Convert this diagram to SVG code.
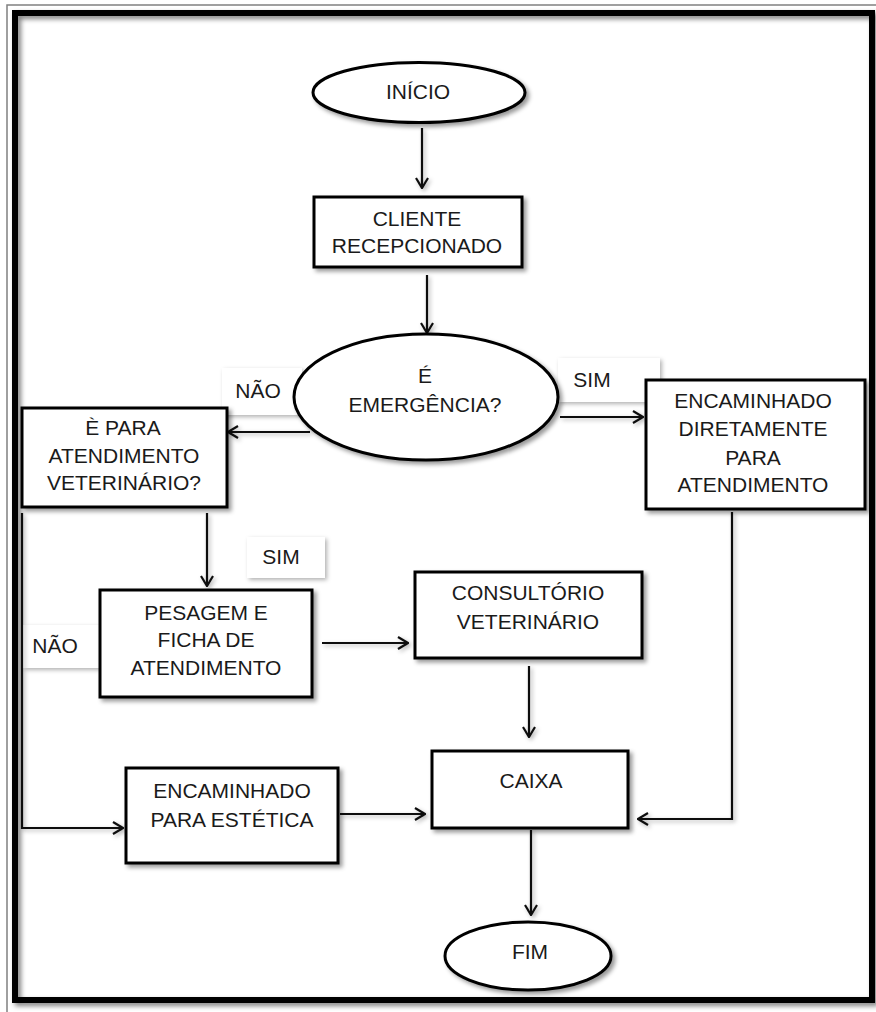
<svg xmlns="http://www.w3.org/2000/svg" width="876" height="1012" viewBox="0 0 876 1012">
<defs>
<style>
.t{font-family:"Liberation Sans",Arial,sans-serif;font-size:21px;fill:#1a1a1a;text-anchor:middle}
.n{fill:#fff;stroke:#000;stroke-width:3}
.c{fill:none;stroke:#111;stroke-width:2.2}
.lb{fill:#fff;stroke:none}
</style>
<filter id="sh" x="-20%" y="-20%" width="140%" height="140%">
<feDropShadow dx="3" dy="3" stdDeviation="2" flood-color="#000" flood-opacity="0.4"/>
</filter>
<filter id="shl" x="-20%" y="-20%" width="140%" height="140%">
<feDropShadow dx="2" dy="2" stdDeviation="2" flood-color="#000" flood-opacity="0.3"/>
</filter>
<filter id="fsh" x="-5%" y="-5%" width="110%" height="110%">
<feDropShadow dx="3" dy="3" stdDeviation="2.5" flood-color="#000" flood-opacity="0.5"/>
</filter>
<marker id="ar" viewBox="0 0 12 14" refX="11" refY="7" markerWidth="12" markerHeight="14" markerUnits="userSpaceOnUse" orient="auto">
<path d="M1,1 L11,7 L1,13" fill="none" stroke="#111" stroke-width="2.2"/>
</marker>
</defs>
<rect width="876" height="1012" fill="#fff"/>
<rect x="7" y="5" width="880" height="1020" fill="none" stroke="#808080" stroke-width="1.5"/>
<rect x="15" y="13" width="857" height="987" fill="none" stroke="#000" stroke-width="6" filter="url(#fsh)"/>

<g id="labels">
<g id="lbl-nao1"><rect class="lb" x="222" y="368" width="80" height="47" filter="url(#shl)"/><text class="t" x="258" y="398">NÃO</text></g>
<g id="lbl-sim1"><rect class="lb" x="558" y="358" width="102" height="44" filter="url(#shl)"/><text class="t" x="592" y="387">SIM</text></g>
<g id="lbl-sim2"><rect class="lb" x="247" y="537" width="78" height="41" filter="url(#shl)"/><text class="t" x="281" y="564">SIM</text></g>
<g id="lbl-nao2"><rect class="lb" x="23" y="625" width="76" height="43" filter="url(#shl)"/><text class="t" x="55" y="653">NÃO</text></g>
</g>

<g id="connectors" filter="url(#shl)">
<path class="c" d="M422,128 V188" marker-end="url(#ar)"/>
<path class="c" d="M427,275 V333" marker-end="url(#ar)"/>
<path class="c" d="M310,432 H228" marker-end="url(#ar)"/>
<path class="c" d="M560,417 H643" marker-end="url(#ar)"/>
<path class="c" d="M207,513 V586" marker-end="url(#ar)"/>
<path class="c" d="M22,513 V828 H123" marker-end="url(#ar)"/>
<path class="c" d="M322,643 H408" marker-end="url(#ar)"/>
<path class="c" d="M529,666 V737" marker-end="url(#ar)"/>
<path class="c" d="M340,814 H425" marker-end="url(#ar)"/>
<path class="c" d="M732,512 V819 H638" marker-end="url(#ar)"/>
<path class="c" d="M531,830 V915" marker-end="url(#ar)"/>
</g>

<g id="inicio"><ellipse class="n" cx="419" cy="92.5" rx="106" ry="30" filter="url(#sh)"/><text class="t" x="418" y="99">INÍCIO</text></g>
<g id="cliente"><rect class="n" x="314" y="197" width="208" height="70" filter="url(#sh)"/><text class="t" x="417" y="226">CLIENTE</text><text class="t" x="417" y="253">RECEPCIONADO</text></g>
<g id="emergencia"><ellipse class="n" cx="426" cy="397" rx="132" ry="63" filter="url(#sh)"/><text class="t" x="425" y="383">É</text><text class="t" x="425" y="412">EMERGÊNCIA?</text></g>
<g id="atendvet"><rect class="n" x="22" y="408" width="205" height="99" filter="url(#sh)"/><text class="t" x="123" y="435">È PARA</text><text class="t" x="124" y="463">ATENDIMENTO</text><text class="t" x="124" y="490">VETERINÁRIO?</text></g>
<g id="diretamente"><rect class="n" x="646" y="380" width="219" height="129" filter="url(#sh)"/><text class="t" x="753" y="408">ENCAMINHADO</text><text class="t" x="753" y="436">DIRETAMENTE</text><text class="t" x="753" y="465">PARA</text><text class="t" x="753" y="492">ATENDIMENTO</text></g>
<g id="pesagem"><rect class="n" x="100" y="590" width="212" height="107" filter="url(#sh)"/><text class="t" x="206" y="620">PESAGEM E</text><text class="t" x="206" y="647">FICHA DE</text><text class="t" x="206" y="675">ATENDIMENTO</text></g>
<g id="consultorio"><rect class="n" x="415" y="572" width="227" height="86" filter="url(#sh)"/><text class="t" x="528" y="600">CONSULTÓRIO</text><text class="t" x="528" y="629">VETERINÁRIO</text></g>
<g id="caixa"><rect class="n" x="432" y="751" width="196" height="77" filter="url(#sh)"/><text class="t" x="531" y="788">CAIXA</text></g>
<g id="estetica"><rect class="n" x="126" y="768" width="212" height="95" filter="url(#sh)"/><text class="t" x="232" y="798">ENCAMINHADO</text><text class="t" x="232" y="827">PARA ESTÉTICA</text></g>
<g id="fim"><ellipse class="n" cx="528" cy="956" rx="83" ry="34" filter="url(#sh)"/><text class="t" x="530" y="959">FIM</text></g>
</svg>
